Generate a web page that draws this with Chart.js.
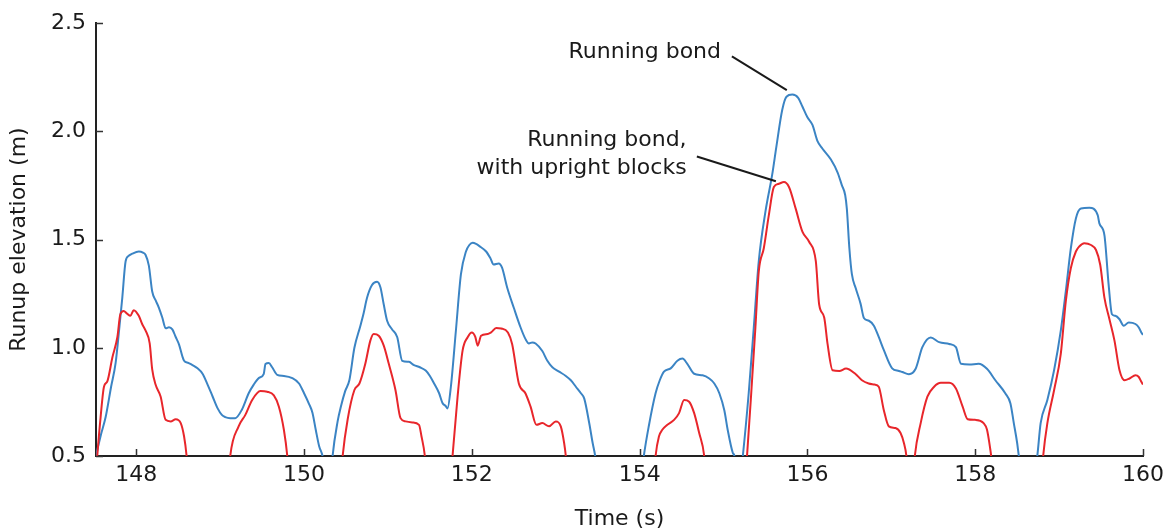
<!DOCTYPE html>
<html>
<head>
<meta charset="utf-8">
<script src="https://cdn.jsdelivr.net/npm/chart.js@4/dist/chart.umd.min.js"></script>
<style>
    html, body { margin: 0; padding: 0; background: #fff; }
    #wrap { width: 1176px; height: 532px; position: relative; }
</style>
</head>
<body>
<div id="wrap"><canvas id="runupChart"></canvas></div>
<script>
// Runup elevation time series for the two armour layouts.
// Values dipping below 0.5 m fall outside the plotted range and are clipped.
const timeRunning = [
    147.50, 147.52, 147.58, 147.635, 147.70, 147.754, 147.80, 147.833, 147.873, 147.91,
    147.953, 148.03, 148.08, 148.11, 148.15, 148.19, 148.23, 148.27, 148.31, 148.35,
    148.39, 148.43, 148.47, 148.51, 148.55, 148.57, 148.62, 148.67, 148.73, 148.79,
    148.85, 148.91, 148.97, 149.02, 149.06, 149.12, 149.18, 149.26, 149.34, 149.40,
    149.46, 149.52, 149.54, 149.58, 149.62, 149.68, 149.76, 149.86, 149.94, 150.00,
    150.06, 150.10, 150.14, 150.18, 150.22, 150.26, 150.32, 150.34, 150.40, 150.44,
    150.49, 150.54, 150.60, 150.67, 150.71, 150.75, 150.81, 150.87, 150.91, 150.95,
    150.99, 151.05, 151.11, 151.17, 151.25, 151.31, 151.38, 151.45, 151.50, 151.55,
    151.61, 151.65, 151.69, 151.71, 151.75, 151.81, 151.87, 151.93, 151.97, 152.01,
    152.05, 152.09, 152.17, 152.22, 152.26, 152.32, 152.36, 152.42, 152.50, 152.58,
    152.64, 152.68, 152.72, 152.76, 152.84, 152.90, 152.96, 153.04, 153.12, 153.18,
    153.24, 153.30, 153.34, 153.40, 153.44, 153.47, 153.50, 154.02, 154.05, 154.11,
    154.19, 154.24, 154.29, 154.37, 154.45, 154.51, 154.57, 154.65, 154.75, 154.83,
    154.89, 154.95, 155.01, 155.05, 155.11, 155.13, 155.16, 155.20, 155.23, 155.30,
    155.36, 155.42, 155.50, 155.58, 155.63, 155.70, 155.75, 155.82, 155.89, 155.94,
    156.00, 156.06, 156.12, 156.18, 156.28, 156.36, 156.41, 156.45, 156.47, 156.50,
    156.53, 156.575, 156.634, 156.673, 156.733, 156.792, 156.85, 156.91, 157.01, 157.09,
    157.13, 157.21, 157.29,
    157.37, 157.47, 157.57, 157.69, 157.77, 157.83, 157.93, 158.04, 158.14, 158.24,
    158.36, 158.42, 158.46, 158.50, 158.52, 158.56, 158.70, 158.74, 158.78, 158.86,
    158.94, 159.02, 159.08, 159.14, 159.20, 159.26, 159.36, 159.46, 159.48, 159.54,
    159.59, 159.63, 159.67, 159.72, 159.77, 159.83, 159.91, 159.95, 159.98, 160.00
];
const runupRunning = [
    0.46, 0.50, 0.60, 0.68, 0.82, 0.93, 1.10, 1.23, 1.40, 1.425,
    1.435, 1.445, 1.44, 1.43, 1.38, 1.26, 1.22, 1.185, 1.14, 1.09,
    1.095, 1.085, 1.05, 1.015, 0.96, 0.94, 0.93, 0.92, 0.905, 0.88,
    0.83, 0.775, 0.72, 0.69, 0.68, 0.675, 0.675, 0.715, 0.79, 0.83,
    0.86, 0.88, 0.925, 0.93, 0.91, 0.875, 0.87, 0.86, 0.835, 0.79,
    0.74, 0.70, 0.62, 0.545, 0.50, 0.40, 0.40, 0.50, 0.66, 0.73,
    0.80, 0.85, 1.00, 1.10, 1.16, 1.23, 1.29, 1.305, 1.28, 1.20,
    1.125, 1.085, 1.05, 0.94, 0.935, 0.92, 0.91, 0.895, 0.87, 0.835,
    0.79, 0.745, 0.73, 0.72, 0.82, 1.08, 1.34, 1.445, 1.475, 1.485,
    1.48, 1.47, 1.445, 1.415, 1.385, 1.39, 1.37, 1.28, 1.185, 1.095,
    1.04, 1.02, 1.025, 1.02, 0.985, 0.94, 0.91, 0.89, 0.87, 0.85,
    0.82, 0.79, 0.765, 0.65, 0.56, 0.50, 0.40, 0.40, 0.50, 0.64,
    0.79, 0.85, 0.89, 0.905, 0.94, 0.95, 0.925, 0.88, 0.873, 0.858,
    0.835, 0.79, 0.71, 0.62, 0.515, 0.50, 0.40, 0.40, 0.50, 0.79,
    1.09, 1.40, 1.63, 1.80, 1.93, 2.10, 2.16, 2.17, 2.155, 2.115,
    2.065, 2.03, 1.955, 1.92, 1.87, 1.81, 1.752, 1.706, 1.642, 1.46,
    1.34, 1.276, 1.203, 1.138, 1.125, 1.102, 1.05, 0.99, 0.905, 0.893,
    0.888, 0.878, 0.903,
    1.003, 1.048, 1.026, 1.018, 1.003, 0.926, 0.923, 0.926, 0.903, 0.85,
    0.789, 0.743, 0.652, 0.56, 0.50, 0.40, 0.40, 0.50, 0.652, 0.759,
    0.896, 1.079, 1.262, 1.46, 1.598, 1.644, 1.647, 1.613, 1.575, 1.521,
    1.293, 1.155, 1.148, 1.132, 1.102, 1.117, 1.11, 1.094, 1.071, 1.06
];

const timeUpright = [
    147.52, 147.535, 147.575, 147.615, 147.655, 147.715, 147.775, 147.81, 147.85, 147.89,
    147.93, 147.97, 148.03, 148.07, 148.11, 148.16, 148.19, 148.23, 148.29, 148.35,
    148.41, 148.47, 148.53, 148.57, 148.60, 148.62, 149.10, 149.12, 149.22, 149.30,
    149.38, 149.48, 149.56, 149.64, 149.70, 149.76, 149.80, 149.82, 150.44, 150.46,
    150.52, 150.60, 150.66, 150.73, 150.79, 150.83, 150.89, 150.95, 151.01, 151.09,
    151.15, 151.21, 151.29, 151.37, 151.40, 151.44, 151.46, 151.75, 151.77, 151.83,
    151.89, 151.95, 152.00, 152.04, 152.07, 152.11, 152.19, 152.23, 152.29, 152.35,
    152.43, 152.48, 152.56, 152.64, 152.70, 152.77, 152.84, 152.92, 153.00, 153.06,
    153.10, 153.12, 153.14, 154.17, 154.19, 154.23, 154.27, 154.33, 154.41, 154.47,
    154.53, 154.59, 154.65, 154.71, 154.77, 154.79, 155.26, 155.28, 155.33, 155.38,
    155.42, 155.48, 155.54, 155.60, 155.66, 155.72, 155.78, 155.86, 155.94, 156.02,
    156.10, 156.14, 156.20, 156.24, 156.30, 156.38, 156.46, 156.57, 156.65, 156.73,
    156.80, 156.85, 156.91, 156.97, 157.05, 157.11, 157.15, 157.18, 157.20, 157.26,
    157.28, 157.35, 157.43, 157.51, 157.59, 157.69, 157.77, 157.85, 157.91, 158.00,
    158.10, 158.14, 158.18, 158.19, 158.21, 158.79, 158.81, 158.86, 158.94, 159.02,
    159.08, 159.14, 159.20, 159.24, 159.30, 159.38, 159.44, 159.49, 159.54, 159.60,
    159.66, 159.72, 159.78, 159.84, 159.91, 159.95, 159.98, 160.00
];
const runupUpright = [
    0.42, 0.50, 0.68, 0.82, 0.845, 0.955, 1.05, 1.155, 1.17, 1.158,
    1.148, 1.174, 1.148, 1.11, 1.08, 1.02, 0.90, 0.83, 0.775, 0.667,
    0.66, 0.67, 0.652, 0.59, 0.50, 0.40, 0.40, 0.50, 0.637, 0.69,
    0.758, 0.80, 0.797, 0.78, 0.728, 0.62, 0.50, 0.40, 0.40, 0.50,
    0.67, 0.805, 0.835, 0.926, 1.033, 1.064, 1.056, 1.01, 0.926, 0.804,
    0.675, 0.66, 0.655, 0.644, 0.59, 0.50, 0.40, 0.40, 0.50, 0.774,
    0.988, 1.049, 1.071, 1.052, 1.01, 1.056, 1.064, 1.071, 1.091, 1.089,
    1.071, 1.018, 0.835, 0.789, 0.728, 0.644, 0.652, 0.637, 0.66, 0.637,
    0.56, 0.50, 0.40, 0.40, 0.50, 0.59, 0.621, 0.644, 0.667, 0.698,
    0.759, 0.751, 0.698, 0.606, 0.50, 0.40, 0.40, 0.50, 0.789, 1.094,
    1.353, 1.46, 1.613, 1.743, 1.758, 1.766, 1.743, 1.643, 1.537, 1.49,
    1.40, 1.20, 1.14, 1.018, 0.896, 0.893, 0.904, 0.88, 0.85, 0.835,
    0.83, 0.82, 0.713, 0.637, 0.629, 0.606, 0.56, 0.50, 0.40, 0.40,
    0.50, 0.652, 0.774, 0.82, 0.838, 0.838, 0.812, 0.728, 0.67, 0.667,
    0.652, 0.622, 0.53, 0.50, 0.40, 0.40, 0.50, 0.652, 0.804, 0.972,
    1.216, 1.369, 1.445, 1.468, 1.483, 1.475, 1.452, 1.384, 1.232, 1.132,
    1.033, 0.896, 0.85, 0.858, 0.873, 0.865, 0.843, 0.83
];

const xTickValues = [148, 150, 152, 154, 156, 158, 160];
const yTickValues = [0.5, 1.0, 1.5, 2.0, 2.5];

// Callout labels: text lines, anchor (time, elevation) of the text's right/baseline,
// and the leader line end points in data units
const calloutRunning = {
    lines: ['Running bond'], x: 154.97, y: 2.338,
    from: [155.10, 2.347], to: [155.754, 2.191]
};
const calloutUpright = {
    lines: ['Running bond,', 'with upright blocks'], x: 154.56, y: 1.933,
    from: [154.682, 1.884], to: [155.624, 1.770]
};

const FONT = 'DejaVu Sans, Verdana, sans-serif';
const INK = '#1a1a1a';

const toPoints = (xs, ys) => xs.map((x, i) => ({ x, y: ys[i] }));

// inward tick marks plus the callout text and leaders
const decorPlugin = {
    id: 'decor',
    afterDraw(chart) {
        const { ctx, chartArea, scales } = chart;
        const xs = scales.x, ys = scales.y;
        ctx.save();
        ctx.strokeStyle = '#333';
        ctx.lineWidth = 1.5;
        ctx.beginPath();
        xTickValues.forEach(v => {
            const px = Math.round(xs.getPixelForValue(v)) + 0.5;
            ctx.moveTo(px, chartArea.bottom);
            ctx.lineTo(px, chartArea.bottom - 7);
        });
        yTickValues.forEach(v => {
            const py = Math.round(ys.getPixelForValue(v)) + 0.5;
            ctx.moveTo(chartArea.left, py);
            ctx.lineTo(chartArea.left + 7, py);
        });
        ctx.stroke();

        ctx.fillStyle = INK;
        ctx.font = '22px ' + FONT;
        ctx.textAlign = 'right';
        ctx.textBaseline = 'alphabetic';
        ctx.strokeStyle = INK;
        ctx.lineWidth = 2;
        [calloutRunning, calloutUpright].forEach(c => {
            const tx = xs.getPixelForValue(c.x);
            const ty = ys.getPixelForValue(c.y);
            c.lines.forEach((line, i) => ctx.fillText(line, tx, ty + i * 28));
            ctx.beginPath();
            ctx.moveTo(xs.getPixelForValue(c.from[0]), ys.getPixelForValue(c.from[1]));
            ctx.lineTo(xs.getPixelForValue(c.to[0]), ys.getPixelForValue(c.to[1]));
            ctx.stroke();
        });
        ctx.restore();
    }
};

new Chart(document.getElementById('runupChart'), {
    type: 'line',
    data: {
        datasets: [
            {
                label: 'Running bond, with upright blocks',
                data: toPoints(timeUpright, runupUpright),
                borderColor: '#e8262b',
                borderWidth: 2,
                pointRadius: 0,
                cubicInterpolationMode: 'monotone',
                clip: 0
            },
            {
                label: 'Running bond',
                data: toPoints(timeRunning, runupRunning),
                borderColor: '#3b84c4',
                borderWidth: 2,
                pointRadius: 0,
                cubicInterpolationMode: 'monotone',
                clip: 0
            }
        ]
    },
    options: {
        responsive: true,
        maintainAspectRatio: false,
        animation: false,
        layout: { padding: { left: 0, right: 33, top: 20, bottom: 0 } },
        plugins: {
            legend: { display: false },
            tooltip: { enabled: false }
        },
        scales: {
            x: {
                type: 'linear',
                min: 147.52,
                max: 160,
                afterBuildTicks: s => { s.ticks = xTickValues.map(v => ({ value: v })); },
                afterFit: s => { s.height = 76; },
                grid: { display: false, drawTicks: false },
                border: { display: true, color: '#222', width: 2 },
                ticks: {
                    color: INK,
                    padding: 6,
                    maxRotation: 0,
                    font: { family: FONT, size: 22 },
                    callback: v => String(v)
                },
                title: {
                    display: true,
                    text: 'Time (s)',
                    color: INK,
                    font: { family: FONT, size: 22 },
                    padding: { top: 10, bottom: 0 }
                }
            },
            y: {
                min: 0.5,
                max: 2.5,
                afterBuildTicks: s => { s.ticks = yTickValues.map(v => ({ value: v })); },
                afterFit: s => { s.width = 96; },
                grid: { display: false, drawTicks: false },
                border: { display: true, color: '#222', width: 2 },
                ticks: {
                    color: INK,
                    padding: 10,
                    font: { family: FONT, size: 22 },
                    callback: v => v.toFixed(1)
                },
                title: {
                    display: true,
                    text: 'Runup elevation (m)',
                    color: INK,
                    font: { family: FONT, size: 22 },
                    padding: { top: 6, bottom: 6 }
                }
            }
        }
    },
    plugins: [decorPlugin]
});
</script>
</body>
</html>
